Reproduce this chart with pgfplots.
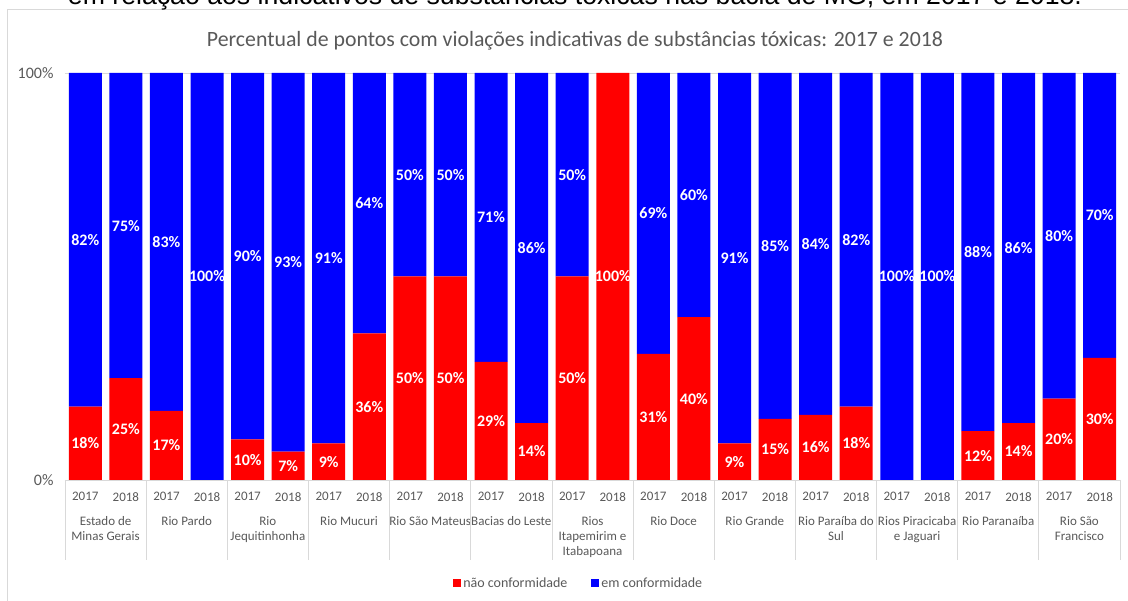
\documentclass[border=0pt]{standalone}
\usepackage{pgfplots}
\pgfplotsset{compat=1.18}
\usepackage{fontspec}
\setmainfont{Carlito}
\newfontfamily\arialfont{Liberation Sans}
\definecolor{labgray}{HTML}{595959}
\definecolor{gridgray}{HTML}{D9D9D9}
\definecolor{barred}{HTML}{FF0000}
\definecolor{barblue}{HTML}{0000FF}
\begin{document}
\begin{tikzpicture}
% frame of the chart area
\draw[gridgray, line width=0.8pt] (7.5pt,-20pt) rectangle (1150pt,591.5pt);
% cut-off text above the chart
\node[anchor=base, inner sep=0pt] at (575pt,596.3pt) {\resizebox{1014pt}{!}{\arialfont em relação aos indicativos de substâncias tóxicas nas bacia de MG, em 2017 e 2018.}};
% title
\node[anchor=base, inner sep=0pt, text=labgray] at (575pt,554pt) {\resizebox{736pt}{!}{\fontsize{20}{24}\selectfont Percentual de pontos com violações indicativas de substâncias tóxicas: 2017 e 2018}};
\begin{axis}[
  at={(65pt,121pt)}, anchor=south west,
  scale only axis, width=1055pt, height=407pt,
  ybar stacked, bar width=33pt,
  xmin=-0.5, xmax=25.5, ymin=0, ymax=100,
  xtick={0,...,25},
  xticklabels={2017,2018,2017,2018,2017,2018,2017,2018,2017,2018,2017,2018,2017,2018,2017,2018,2017,2018,2017,2018,2017,2018,2017,2018,2017,2018},
  ytick={0,100}, yticklabels={0\%,100\%},
  axis line style={draw=none},
  ymajorgrids, grid style={draw=gridgray, line width=0.8pt},
  major tick length=0pt,
  xticklabel style={font=\fontsize{13}{15}\selectfont, text=labgray, yshift=-9pt},
  yticklabel style={font=\fontsize{16}{18}\selectfont, text=labgray, xshift=-8pt},
  clip=false,
  legend style={at={(0.487,-0.253)}, anchor=center, draw=none, fill=none,
    font=\fontsize{14}{16}\selectfont, text=labgray,
    /tikz/every even column/.append style={column sep=22pt}},
  legend columns=2,
  legend image code/.code={\fill[#1] (0pt,-4pt) rectangle (8pt,4pt);},
  nodes near coords,
  point meta=explicit symbolic,
  every node near coord/.append style={anchor=center, text=white,
    font=\bfseries\fontsize{16}{18}\selectfont},
]
\addplot[fill=barred, draw=none] coordinates {
 (0,18) [18\%] (1,25) [25\%]
 (2,17) [17\%] (3,0) []
 (4,10) [10\%] (5,7) [7\%]
 (6,9) [9\%] (7,36) [36\%]
 (8,50) [50\%] (9,50) [50\%]
 (10,29) [29\%] (11,14) [14\%]
 (12,50) [50\%] (13,100) [100\%]
 (14,31) [31\%] (15,40) [40\%]
 (16,9) [9\%] (17,15) [15\%]
 (18,16) [16\%] (19,18) [18\%]
 (20,0) [] (21,0) []
 (22,12) [12\%] (23,14) [14\%]
 (24,20) [20\%] (25,30) [30\%]
};
\addlegendentry{não conformidade}
\addplot[fill=barblue, draw=none] coordinates {
 (0,82) [82\%] (1,75) [75\%]
 (2,83) [83\%] (3,100) [100\%]
 (4,90) [90\%] (5,93) [93\%]
 (6,91) [91\%] (7,64) [64\%]
 (8,50) [50\%] (9,50) [50\%]
 (10,71) [71\%] (11,86) [86\%]
 (12,50) [50\%] (13,0) []
 (14,69) [69\%] (15,60) [60\%]
 (16,91) [91\%] (17,85) [85\%]
 (18,84) [84\%] (19,82) [82\%]
 (20,100) [100\%] (21,100) [100\%]
 (22,88) [88\%] (23,86) [86\%]
 (24,80) [80\%] (25,70) [70\%]
};
\addlegendentry{em conformidade}
% group separators
\pgfplotsinvokeforeach{0,...,13}{
  \draw[gridgray, line width=0.8pt] (axis cs:{2*#1-0.5},0) -- ++(0pt,-80pt);
}
% group labels
\tikzset{grp/.style={anchor=north, inner sep=0pt, align=center, text=labgray, font=\fontsize{13}{15}\selectfont, yshift=-36pt}}
\node[grp] at (axis cs:0.5,0) {Estado de\\Minas Gerais};
\node[grp] at (axis cs:2.5,0) {Rio Pardo};
\node[grp] at (axis cs:4.5,0) {Rio\\Jequitinhonha};
\node[grp] at (axis cs:6.5,0) {Rio Mucuri};
\node[grp] at (axis cs:8.5,0) {Rio São Mateus};
\node[grp] at (axis cs:10.5,0) {Bacias do Leste};
\node[grp] at (axis cs:12.5,0) {Rios\\Itapemirim e\\Itabapoana};
\node[grp] at (axis cs:14.5,0) {Rio Doce};
\node[grp] at (axis cs:16.5,0) {Rio Grande};
\node[grp] at (axis cs:18.5,0) {Rio Paraíba do\\Sul};
\node[grp] at (axis cs:20.5,0) {Rios Piracicaba\\e Jaguari};
\node[grp] at (axis cs:22.5,0) {Rio Paranaíba};
\node[grp] at (axis cs:24.5,0) {Rio São\\Francisco};
\end{axis}
\pgfresetboundingbox
\useasboundingbox (0pt,0pt) rectangle (1128pt,601pt);
\end{tikzpicture}
\end{document}
